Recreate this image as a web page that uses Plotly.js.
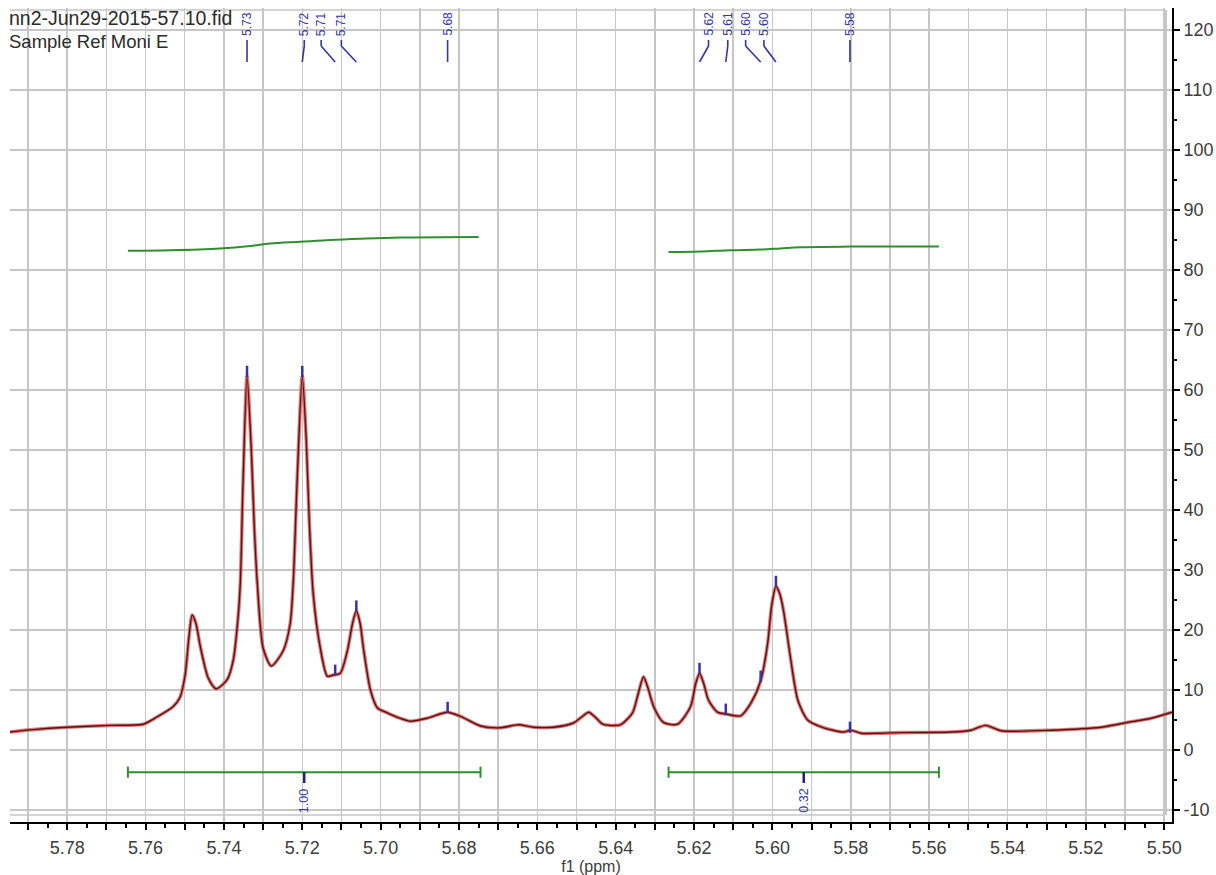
<!DOCTYPE html>
<html>
<head>
<meta charset="utf-8">
<script src="https://cdn.plot.ly/plotly-3.0.1.min.js"></script>
<style>html,body{margin:0;padding:0;background:#fff;}#chart{width:1216px;height:875px;}</style>
</head>
<body>
<div id="chart"></div>
<script>
// ---------------- DATA ----------------
const fileName = "nn2-Jun29-2015-57.10.fid";
const sampleName = "Sample Ref Moni E";

// spectrum: chemical shift (ppm) and intensity
const shiftPpm = [5.7946,5.7887,5.7800,5.7691,5.7606,5.7571,5.7530,5.7512,5.7499,5.7489,5.7481,5.7471,5.7461,5.7440,5.7420,5.7392,5.7376,5.7364,5.7358,5.7351,5.7341,5.7330,5.7323,5.7315,5.7300,5.7279,5.7249,5.7231,5.7223,5.7213,5.7200,5.7190,5.7182,5.7172,5.7154,5.7136,5.7121,5.7103,5.7085,5.7072,5.7062,5.7052,5.7044,5.7026,5.7008,5.6983,5.6955,5.6924,5.6881,5.6830,5.6796,5.6745,5.6694,5.6648,5.6610,5.6559,5.6508,5.6487,5.6469,5.6451,5.6433,5.6388,5.6357,5.6342,5.6329,5.6316,5.6303,5.6278,5.6242,5.6209,5.6196,5.6186,5.6175,5.6163,5.6140,5.6119,5.6081,5.6055,5.6030,5.6012,5.6002,5.5991,5.5981,5.5971,5.5953,5.5935,5.5910,5.5869,5.5818,5.5800,5.5774,5.5723,5.5672,5.5544,5.5493,5.5473,5.5455,5.5437,5.5417,5.5289,5.5161,5.5085,5.5033,5.4980];
const intensity = [3.0,3.4,3.8,4.1,4.3,5.5,7.2,8.8,12.5,19,22.5,21,17.5,12,10.2,11.7,15,22,28,45,62.3,50,38,28,17,14,16.5,21,28,45,62.3,52,38,26,17,12.3,12.5,12.8,16.5,21,23.2,21,17,10,7,6.2,5.4,4.8,5.3,6.3,5.6,4.0,3.7,4.2,3.8,3.8,4.5,5.5,6.3,5.4,4.3,4.2,6.2,9.5,12.2,10,7.2,4.6,4.3,7.2,11,12.8,11,8.3,6.3,6.0,5.7,7.8,11.5,17.8,24,27.3,26,23,15,8.3,5.0,3.7,3.0,3.3,2.8,2.8,2.9,3.0,3.3,3.8,4.1,3.7,3.2,3.3,3.8,4.7,5.3,6.3];

// picked peaks
const peakPpm = [5.7341,5.7200,5.7116,5.7062,5.6829,5.6186,5.6119,5.6030,5.5991,5.5802];
const peakHeight = [62.3,62.3,12.5,23.2,6.3,12.8,6.0,11.5,27.3,3.0];
const peakLabels = ["5.73","5.72","5.71","5.71","5.68","5.62","5.61","5.60","5.60","5.58"];

// integrals: ranges, values and integral curves
const intFrom = [5.7645, 5.6265];
const intTo = [5.6745, 5.5575];
const intLabels = ["1.00", "0.32"];
const int1Ppm = [5.7645,5.7537,5.7410,5.7333,5.7282,5.7205,5.7128,5.7052,5.6950,5.6750];
const int1Val = [83.2,83.3,83.6,84.0,84.4,84.7,85.0,85.2,85.4,85.5];
const int2Ppm = [5.6265,5.6183,5.6106,5.6030,5.5979,5.5928,5.5800,5.5575];
const int2Val = [83.0,83.1,83.3,83.4,83.6,83.8,83.9,83.9];

// axis ticks
const xTickVals = [5.79,5.78,5.77,5.76,5.75,5.74,5.73,5.72,5.71,5.70,5.69,5.68,5.67,5.66,5.65,5.64,5.63,5.62,5.61,5.60,5.59,5.58,5.57,5.56,5.55,5.54,5.53,5.52,5.51,5.50];
const xTickText = ["","5.78","","5.76","","5.74","","5.72","","5.70","","5.68","","5.66","","5.64","","5.62","","5.60","","5.58","","5.56","","5.54","","5.52","","5.50"];
const yTickVals = [-10,0,10,20,30,40,50,60,70,80,90,100,110,120];
const yTickText = ["-10","0","10","20","30","40","50","60","70","80","90","100","110","120"];

// ---------------- LAYOUT / STYLE ----------------
const W = 1216, H = 875;
const M = {l: 10, r: 44, t: 8, b: 53};
const plotW = W - M.l - M.r, plotH = H - M.t - M.b;
const xRange = [5.7946, 5.4980];
const yRange = [-12, 123.67];
const ppmPerPx = (xRange[0] - xRange[1]) / plotW;
const yP = px => (H - M.b - px) / plotH;   // page pixel y -> paper y
const xP = px => (px - M.l) / plotW;       // page pixel x -> paper x

const labelNudgePx = [0, 2, -14, -15, 0, 9, 2, -15, -12, 0];
const blue = "#3434a4";
const green = "#2f8f2f";
const intBarY = -3.7;
const gridCol = "#c6c6c6";
const FONT = "Liberation Sans, Arial, sans-serif";

const traces = [];
// spectrum halo + core
traces.push({x: shiftPpm, y: intensity, mode: "lines", type: "scatter",
  line: {color: "rgba(214,96,96,0.85)", width: 3.6, shape: "spline", smoothing: 0.7}, hoverinfo: "skip", showlegend: false});
traces.push({x: shiftPpm, y: intensity, mode: "lines", type: "scatter",
  line: {color: "#5e1212", width: 1.4, shape: "spline", smoothing: 0.7}, showlegend: false});
// integral curves
traces.push({x: int1Ppm, y: int1Val, mode: "lines", type: "scatter", line: {color: green, width: 2, shape: "spline"}, showlegend: false});
traces.push({x: int2Ppm, y: int2Val, mode: "lines", type: "scatter", line: {color: green, width: 2, shape: "spline"}, showlegend: false});
// integral bars
for (let i = 0; i < intFrom.length; i++) {
  traces.push({x: [intFrom[i], intTo[i]], y: [intBarY, intBarY], mode: "lines+markers", type: "scatter",
    line: {color: green, width: 2}, marker: {symbol: "line-ns-open", size: 8, color: green, line: {color: green, width: 2}}, showlegend: false});
}
// peak markers
traces.push({x: peakPpm, y: peakHeight.map(v => v + 0.8), mode: "markers", type: "scatter",
  marker: {symbol: "line-ns-open", size: 8, color: blue, line: {color: blue, width: 2.5}}, showlegend: false});

const shapes = [];
// light frame
shapes.push({type: "line", xref: "paper", yref: "paper", x0: 0, x1: xP(1165), y0: yP(10), y1: yP(10), line: {color: gridCol, width: 1.5}, layer: "below"});
shapes.push({type: "line", xref: "paper", yref: "paper", x0: 0, x1: xP(1165), y0: yP(815), y1: yP(815), line: {color: gridCol, width: 1.5}, layer: "below"});
shapes.push({type: "line", xref: "paper", yref: "paper", x0: xP(1166), x1: xP(1166), y0: yP(815), y1: yP(10), line: {color: gridCol, width: 2}, layer: "below"});

const annotations = [];
// peak labels and connectors
for (let i = 0; i < peakPpm.length; i++) {
  const lx = peakPpm[i] - labelNudgePx[i] * ppmPerPx;
  shapes.push({type: "line", xref: "x", yref: "paper", x0: lx, x1: lx, y0: yP(40), y1: yP(46), line: {color: blue, width: 1.6}});
  shapes.push({type: "line", xref: "x", yref: "paper", x0: lx, x1: peakPpm[i], y0: yP(46), y1: yP(62), line: {color: blue, width: 1.6}});
  annotations.push({x: peakPpm[i], xshift: labelNudgePx[i], xref: "x", yref: "paper", y: yP(24), xanchor: "center", yanchor: "middle",
    text: peakLabels[i], textangle: -90, showarrow: false, font: {family: FONT, size: 12, color: blue}});
}
// integral labels
for (let i = 0; i < intFrom.length; i++) {
  const c = (intFrom[i] + intTo[i]) / 2;
  shapes.push({type: "line", xref: "x", yref: "paper", x0: c, x1: c, y0: yP(772), y1: yP(783), line: {color: "#22227a", width: 2.5}});
  annotations.push({x: c, xref: "x", yref: "paper", y: yP(801), xanchor: "center", yanchor: "middle", text: intLabels[i], textangle: -90, showarrow: false,
    font: {family: FONT, size: 12.5, color: blue}});
}
// header text
annotations.push({xref: "paper", yref: "paper", x: xP(7), y: yP(18), xanchor: "left", yanchor: "middle", text: fileName, showarrow: false,
  font: {family: FONT, size: 19.5, color: "#2a2a2a"}});
annotations.push({xref: "paper", yref: "paper", x: xP(7), y: yP(41), xanchor: "left", yanchor: "middle", text: sampleName, showarrow: false,
  font: {family: FONT, size: 18.5, color: "#2a2a2a"}});

const axFont = {family: FONT, size: 18, color: "#3c3c3c"};
const layout = {
  width: W, height: H, margin: M, paper_bgcolor: "#fff", plot_bgcolor: "#fff", showlegend: false,
  xaxis: {range: xRange, tickmode: "array", tickvals: xTickVals, ticktext: xTickText, ticks: "outside", ticklen: 6, tickwidth: 2, tickcolor: "#000",
    showline: true, linecolor: "#000", linewidth: 2, showgrid: true, gridcolor: gridCol, gridwidth: 1.5, zeroline: false,
    tickfont: axFont, ticklabelstandoff: 2,
    minor: {tickmode: "linear", tick0: 5.5, dtick: 0.005, ticks: "outside", ticklen: 4, tickwidth: 2, tickcolor: "#000", showgrid: false},
    title: {text: "f1 (ppm)", font: {family: FONT, size: 16, color: "#3c3c3c"}, standoff: 0}},
  yaxis: {range: yRange, side: "right", tickmode: "array", tickvals: yTickVals, ticktext: yTickText, ticks: "outside", ticklen: 6, tickwidth: 2, tickcolor: "#000",
    showline: true, linecolor: "#000", linewidth: 2, showgrid: true, gridcolor: gridCol, gridwidth: 1.5, zeroline: false,
    tickfont: axFont, ticklabelstandoff: 0,
    minor: {tickmode: "linear", tick0: 0, dtick: 5, ticks: "outside", ticklen: 3, tickwidth: 2, tickcolor: "#000", showgrid: false}},
  shapes: shapes, annotations: annotations
};
Plotly.newPlot("chart", traces, layout, {displayModeBar: false, staticPlot: true});
</script>
</body>
</html>
